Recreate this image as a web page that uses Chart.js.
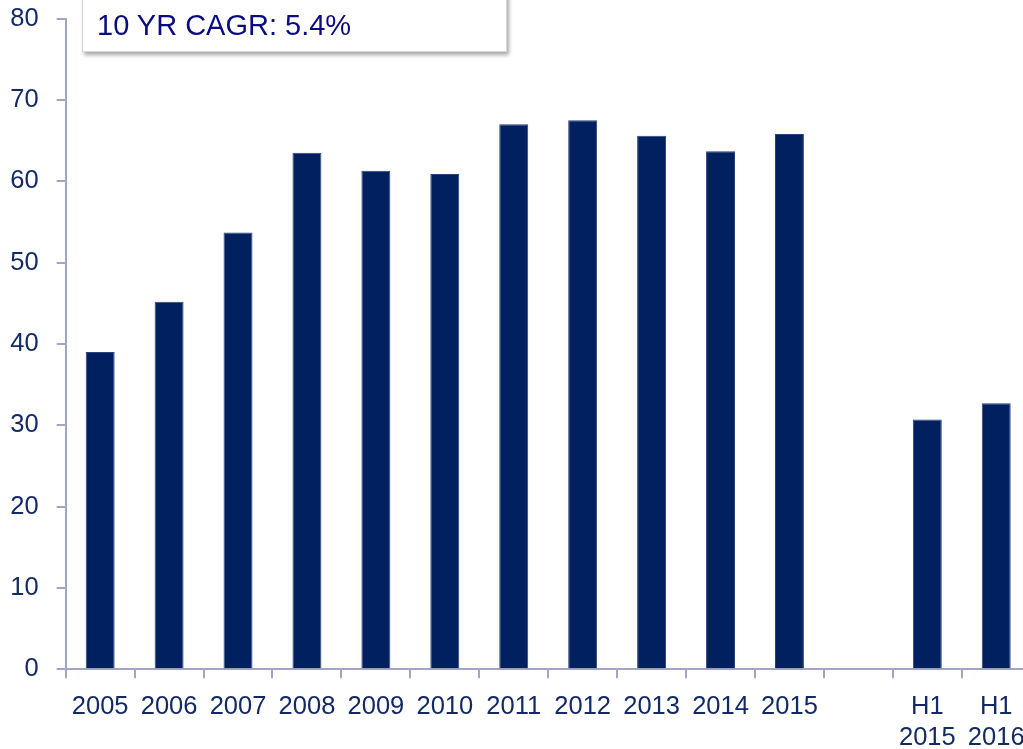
<!DOCTYPE html>
<html>
<head>
<meta charset="utf-8">
<script src="https://cdn.jsdelivr.net/npm/chart.js@4/dist/chart.umd.min.js"></script>
<style>
  html, body { margin: 0; padding: 0; background: #fff; overflow: hidden; }
  #wrap { position: absolute; left: 0; top: 0; width: 1040px; height: 749px; }
  #cagr {
    position: absolute; left: 82px; top: -10px; width: 425px; height: 62px;
    background: #fff; border: 1px solid #d8d8d8;
    box-shadow: 2px 3px 4px rgba(0,0,0,0.35);
    font-family: "Liberation Sans", Arial, sans-serif; font-size: 29px;
    color: #0b0b80; box-sizing: border-box;
  }
  #cagr span { position: absolute; left: 14px; top: 20px; line-height: 1; }
</style>
</head>
<body>
<div id="wrap">
  <canvas id="chart" width="1040" height="749"></canvas>
  <div id="cagr"><span>10 YR CAGR: 5.4%</span></div>
</div>
<script>
const categories = ['2005', '2006', '2007', '2008', '2009', '2010', '2011', '2012', '2013', '2014', '2015', '', ['H1', '2015'], ['H1', '2016']];
const values = [39.0, 45.2, 53.7, 63.5, 61.3, 60.9, 67.0, 67.5, 65.6, 63.7, 65.8, null, 30.7, 32.7];
const yTicks = [0, 10, 20, 30, 40, 50, 60, 70, 80];

const axisColor = '#a4a4c6';
const labelColor = '#142a66';
const labelFont = { family: '"Liberation Sans", Arial, sans-serif', size: 25.5, lineHeight: 1.23 };

new Chart(document.getElementById('chart'), {
    type: 'bar',
    data: {
        labels: categories,
        datasets: [{
            data: values,
            backgroundColor: '#00205f',
            borderColor: '#2c407a',
            borderWidth: 1,
            categoryPercentage: 1,
            barPercentage: 0.42
        }]
    },
    options: {
        responsive: false,
        animation: false,
        layout: { padding: { top: 18.6, right: 9.3, left: 0, bottom: 0 } },
        plugins: { legend: { display: false }, tooltip: { enabled: false } },
        scales: {
            x: {
                grid: { display: true, drawOnChartArea: false, offset: true, color: axisColor, lineWidth: 2, tickLength: 9 },
                border: { color: axisColor, width: 2 },
                ticks: { color: labelColor, font: labelFont, padding: 13, maxRotation: 0, autoSkip: false },
                afterFit: scale => {
                    scale.height = 79.7;
                    scale.paddingLeft = 0;
                    scale.paddingRight = 0;
                }
            },
            y: {
                min: 0,
                max: 80,
                afterBuildTicks: scale => { scale.ticks = yTicks.map(v => ({ value: v })); },
                grid: { display: true, drawOnChartArea: false, color: axisColor, lineWidth: 2, tickLength: 9 },
                border: { color: axisColor, width: 2 },
                ticks: { color: labelColor, font: labelFont, padding: 18 },
                afterFit: scale => {
                    scale.width = 65.7;
                    scale.paddingTop = 0;
                    scale.paddingBottom = 0;
                }
            }
        }
    }
});
</script>
</body>
</html>
